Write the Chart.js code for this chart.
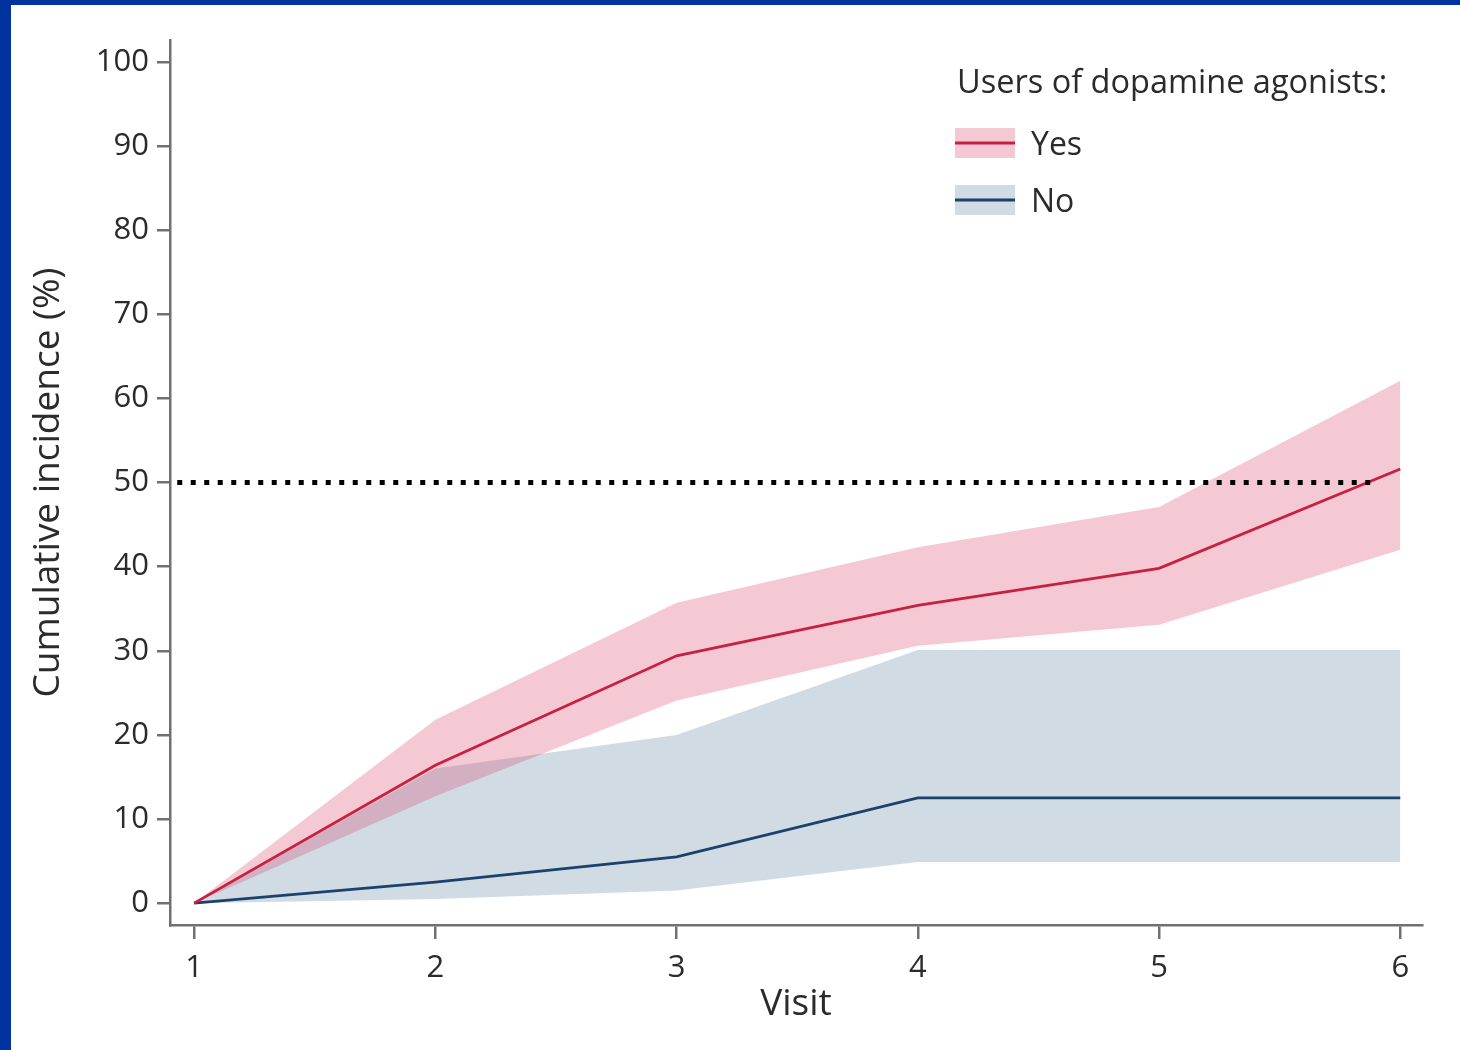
<!DOCTYPE html>
<html>
<head>
<meta charset="utf-8">
<script src="https://cdn.jsdelivr.net/npm/chart.js@4.4.1/dist/chart.umd.min.js"></script>
<style>
  html, body { margin: 0; padding: 0; background: #fff; }
  body { width: 1460px; height: 1050px; box-sizing: border-box;
         border-left: 11px solid #0033a0; border-top: 5px solid #0033a0; overflow: hidden; }
  canvas { display: block; }
</style>
</head>
<body>
<canvas id="chart" width="1449" height="1045"></canvas>
<script>
  // ── Data ──────────────────────────────────────────────────────
  const visits  = [1, 2, 3, 4, 5, 6];
  const yesEst  = [0, 16.4, 29.4, 35.4, 39.8, 51.6];
  const yesLow  = [0, 12.7, 24.1, 30.6, 33.1, 42.0];
  const yesHigh = [0, 21.8, 35.7, 42.3, 47.1, 62.1];
  const noEst   = [0, 2.5, 5.5, 12.5, 12.5, 12.5];
  const noLow   = [0, 0.5, 1.5, 4.9, 4.9, 4.9];
  const noHigh  = [0, 16.0, 20.0, 30.1, 30.1, 30.1];
  const refLevel = 50;
  const refSpan  = [0.93, 5.88];
  const legendItems = ['Yes', 'No'];

  // ── Style tokens ──────────────────────────────────────────────
  const FONT = "'Open Sans', sans-serif";
  const TEXT = '#2b2b2b';
  const AXIS = '#707070';
  const YES_LINE = '#c8203f';
  const YES_BAND = 'rgba(214,60,100,0.28)';
  const NO_LINE  = '#1d416d';
  const NO_BAND  = 'rgba(100,135,165,0.30)';

  const pts = arr => visits.map((v, i) => ({ x: v, y: arr[i] }));
  const band = (data, color, fill) => ({
    data: pts(data), borderWidth: 0, pointRadius: 0,
    backgroundColor: color, fill, tension: 0
  });

  // legend drawn by hand: shaded box with a line through it
  const bandLegend = {
    id: 'bandLegend',
    afterDraw(chart) {
      const ctx = chart.ctx;
      ctx.save();
      ctx.fillStyle = TEXT;
      ctx.textBaseline = 'middle';
      ctx.textAlign = 'left';
      ctx.font = `32.5px ${FONT}`;
      ctx.fillText('Users of dopamine agonists:', 946, 79);
      ctx.font = `32px ${FONT}`;
      const rows = [
        { fill: YES_BAND, line: YES_LINE, y: 123 },
        { fill: NO_BAND,  line: NO_LINE,  y: 180 }
      ];
      rows.forEach((r, i) => {
        ctx.fillStyle = r.fill;
        ctx.fillRect(944, r.y, 60, 30);
        ctx.strokeStyle = r.line;
        ctx.lineWidth = 2.8;
        ctx.beginPath();
        ctx.moveTo(944, r.y + 15);
        ctx.lineTo(1004, r.y + 15);
        ctx.stroke();
        ctx.fillStyle = TEXT;
        ctx.fillText(legendItems[i], 1020, r.y + 18);
      });
      ctx.restore();
    }
  };

  new Chart(document.getElementById('chart'), {
    type: 'line',
    data: {
      datasets: [
        // reference line at 50%
        {
          data: refSpan.map(x => ({ x, y: refLevel })),
          borderColor: '#000', borderWidth: 5, borderDash: [5, 8.5],
          borderCapStyle: 'butt', pointRadius: 0, fill: false
        },
        { data: pts(yesEst), borderColor: YES_LINE, borderWidth: 2.8, pointRadius: 0, fill: false, tension: 0 },
        { data: pts(noEst),  borderColor: NO_LINE,  borderWidth: 2.8, pointRadius: 0, fill: false, tension: 0 },
        band(yesLow, 'transparent', false),
        band(yesHigh, YES_BAND, '-1'),
        band(noLow, 'transparent', false),
        band(noHigh, NO_BAND, '-1')
      ]
    },
    options: {
      responsive: false,
      animation: false,
      layout: { padding: { top: 35, right: 38, left: 0, bottom: 0 } },
      plugins: { legend: { display: false }, tooltip: { enabled: false } },
      scales: {
        x: {
          type: 'linear',
          min: 0.9, max: 6.09,
          afterFit(s) { s.height = 125; },
          border: { color: AXIS, width: 2.5 },
          grid: { drawOnChartArea: false, drawTicks: true, tickLength: 14, color: AXIS, lineWidth: 2.5 },
          ticks: { stepSize: 1, includeBounds: false, color: TEXT, padding: 11,
                   font: { family: FONT, size: 31 } },
          title: { display: true, text: 'Visit', color: TEXT,
                   font: { family: FONT, size: 37 }, padding: { top: 0, bottom: 23 } }
        },
        y: {
          min: -2.6, max: 102.6,
          afterFit(s) { s.width = 159; },
          border: { color: AXIS, width: 2.5 },
          grid: { drawOnChartArea: false, drawTicks: true, tickLength: 13, color: AXIS, lineWidth: 2.5 },
          ticks: { stepSize: 10, includeBounds: false, color: TEXT, padding: 8,
                   font: { family: FONT, size: 31 } },
          title: { display: true, text: 'Cumulative incidence (%)', color: TEXT,
                   font: { family: FONT, size: 37 }, padding: { top: 15, bottom: 0 } }
        }
      }
    },
    plugins: [bandLegend]
  });
</script>
</body>
</html>
